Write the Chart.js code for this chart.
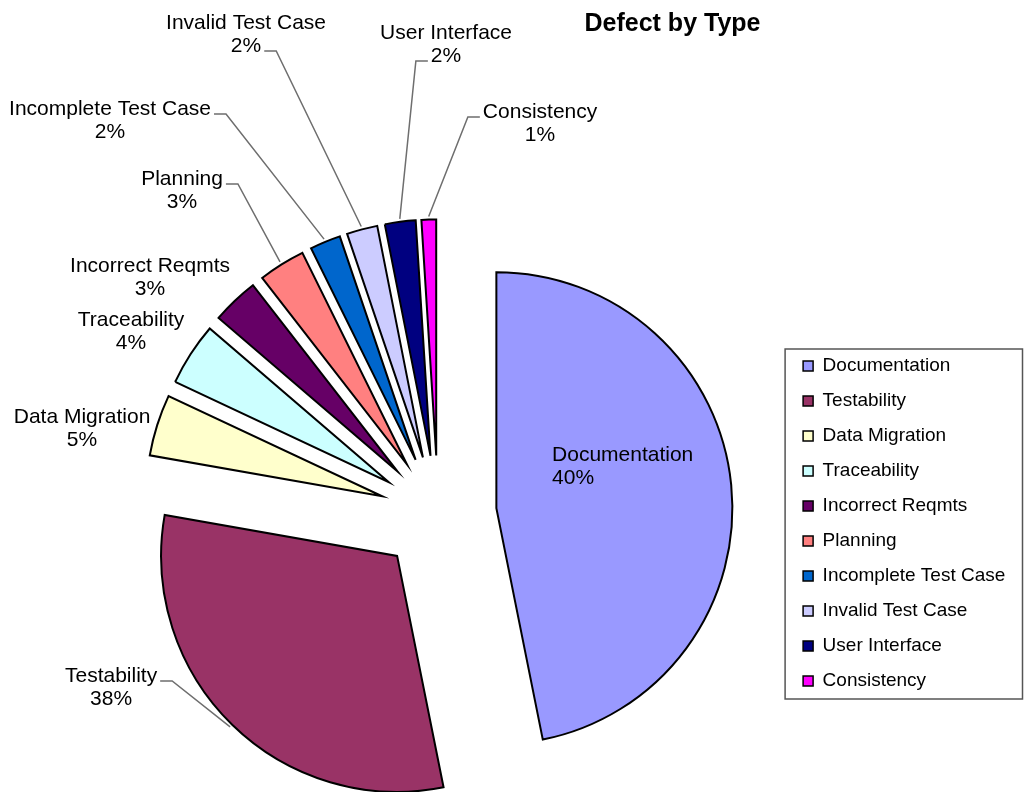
<!DOCTYPE html>
<html>
<head>
<meta charset="utf-8">
<script src="https://cdn.jsdelivr.net/npm/chart.js@4.4.1/dist/chart.umd.min.js"></script>
<style>
  html, body { margin: 0; padding: 0; background: #ffffff; overflow: hidden; }
  canvas { display: block; }
</style>
</head>
<body>
<canvas id="c" width="1024" height="792"></canvas>
<script>
// ---- data ----
const chartTitle = 'Defect by Type';
const categories = ['Documentation', 'Testability', 'Data Migration', 'Traceability', 'Incorrect Reqmts',
                    'Planning', 'Incomplete Test Case', 'Invalid Test Case', 'User Interface', 'Consistency'];
// share of the circle each slice covers, as drawn (percent)
const sliceShares = [46.8, 30.9, 4.2, 4.3, 3.2, 3.2, 2.1, 2.1, 2.1, 1.0];
// percentage text printed on each data label
const percentLabels = ['40%', '38%', '5%', '4%', '3%', '3%', '2%', '2%', '2%', '1%'];

// ---- styles ----
const sliceColors = ['#9999FF', '#993366', '#FFFFCC', '#CCFFFF', '#660066',
                     '#FF8080', '#0066CC', '#CCCCFF', '#000080', '#FF00FF'];
const FONT = "'Liberation Sans', Arial, Helvetica, sans-serif";
const LABEL_SIZE = 21;
const LABEL_LINE = 23;
// data label placement relative to the pie centre (px); leaderRow = text row the leader line starts from
const labelPlacement = [
  { dx: 114,  dy: -53, align: 'left' },
  { dx: -327, dy: 168, leaderRow: 0 },
  { dx: -356, dy: -91 },
  { dx: -307, dy: -188 },
  { dx: -288, dy: -242 },
  { dx: -256, dy: -329, leaderRow: 0 },
  { dx: -328, dy: -399, leaderRow: 0 },
  { dx: -192, dy: -485, leaderRow: 1 },
  { dx: 8,    dy: -475, leaderRow: 1 },
  { dx: 102,  dy: -396, leaderRow: 0 }
];

// ---- exploded pie: every slice pushed out along its bisector by the same distance ----
class ExplodedPieController extends Chart.PieController {
  updateElements(arcs, start, count, mode) {
    super.updateElements(arcs, start, count, mode);
    const d = this.getDataset().explode || 0;
    for (let i = start; i < start + count; i++) {
      const a = arcs[i];
      const mid = (a.startAngle + a.endAngle) / 2;
      a.x += Math.cos(mid) * d;
      a.y += Math.sin(mid) * d;
    }
  }
}
ExplodedPieController.id = 'explodedPie';
ExplodedPieController.defaults = Chart.PieController.defaults;
ExplodedPieController.overrides = Chart.DoughnutController.overrides;
Chart.register(ExplodedPieController);

Chart.defaults.font.family = FONT;

const sliceLabels = {
  id: 'sliceLabels',
  afterDatasetsDraw(chart) {
    const ctx = chart.ctx;
    const meta = chart.getDatasetMeta(0);
    const ca = chart.chartArea;
    const cx = (ca.left + ca.right) / 2, cy = (ca.top + ca.bottom) / 2;
    ctx.save();
    ctx.font = LABEL_SIZE + 'px ' + FONT;
    ctx.fillStyle = '#000000';
    ctx.textBaseline = 'alphabetic';
    ctx.strokeStyle = '#6e6e6e';
    ctx.lineWidth = 1.5;
    meta.data.forEach((arc, i) => {
      const p = labelPlacement[i];
      const lines = [categories[i], percentLabels[i]];
      const ax = cx + p.dx, ay = cy + p.dy;
      ctx.textAlign = p.align || 'center';
      lines.forEach((t, k) => ctx.fillText(t, ax, ay + k * LABEL_LINE));
      if (p.leaderRow !== undefined) {
        const mid = (arc.startAngle + arc.endAngle) / 2;
        const r = arc.outerRadius + 3;
        const ex = arc.x + Math.cos(mid) * r, ey = arc.y + Math.sin(mid) * r;
        const w = ctx.measureText(lines[p.leaderRow]).width;
        const side = ex > ax ? 1 : -1;
        const sx = ax + side * (w / 2 + 3);
        const sy = ay + p.leaderRow * LABEL_LINE - 1;
        ctx.beginPath();
        ctx.moveTo(sx, sy);
        ctx.lineTo(sx + side * 12, sy);
        ctx.lineTo(ex, ey);
        ctx.stroke();
      }
    });
    ctx.restore();
  },
  afterDraw(chart) {
    const ctx = chart.ctx;
    ctx.save();
    // title
    ctx.font = 'bold 25px ' + FONT;
    ctx.fillStyle = '#000000';
    ctx.textAlign = 'center';
    ctx.textBaseline = 'alphabetic';
    ctx.fillText(chartTitle, 672.5, 31);
    // legend frame
    const lg = chart.legend;
    if (lg && lg.legendHitBoxes && lg.legendHitBoxes.length) {
      const hb = lg.legendHitBoxes;
      const first = hb[0], last = hb[hb.length - 1];
      const left = first.left - 18;
      const top = first.top - 7.5;
      const bottom = last.top + last.height + 8.5;
      ctx.strokeStyle = '#555555';
      ctx.lineWidth = 1.5;
      ctx.strokeRect(left, top, chart.width - 1.5 - left, bottom - top);
    }
    ctx.restore();
  }
};

new Chart(document.getElementById('c'), {
  type: 'explodedPie',
  data: {
    labels: categories,
    datasets: [{
      data: sliceShares,
      backgroundColor: sliceColors,
      borderColor: '#000000',
      borderWidth: 2,
      borderJoinStyle: 'miter',
      explode: 58.6,
      radius: 236
    }]
  },
  options: {
    responsive: false,
    animation: false,
    events: [],
    layout: { padding: { left: 89, right: 8.7, top: 321.5, bottom: 85.5 } },
    plugins: {
      title: { display: false },
      tooltip: { enabled: false },
      legend: {
        display: true,
        position: 'right',
        align: 'end',
        labels: {
          color: '#000000',
          font: { size: 19, family: FONT },
          boxWidth: 10,
          boxHeight: 10,
          padding: 16,
          generateLabels: (chart) =>
            Chart.DoughnutController.overrides.plugins.legend.labels.generateLabels(chart)
              .map(it => Object.assign(it, { lineWidth: 1.5, strokeStyle: '#000000' }))
        }
      }
    }
  },
  plugins: [sliceLabels]
});
</script>
</body>
</html>
